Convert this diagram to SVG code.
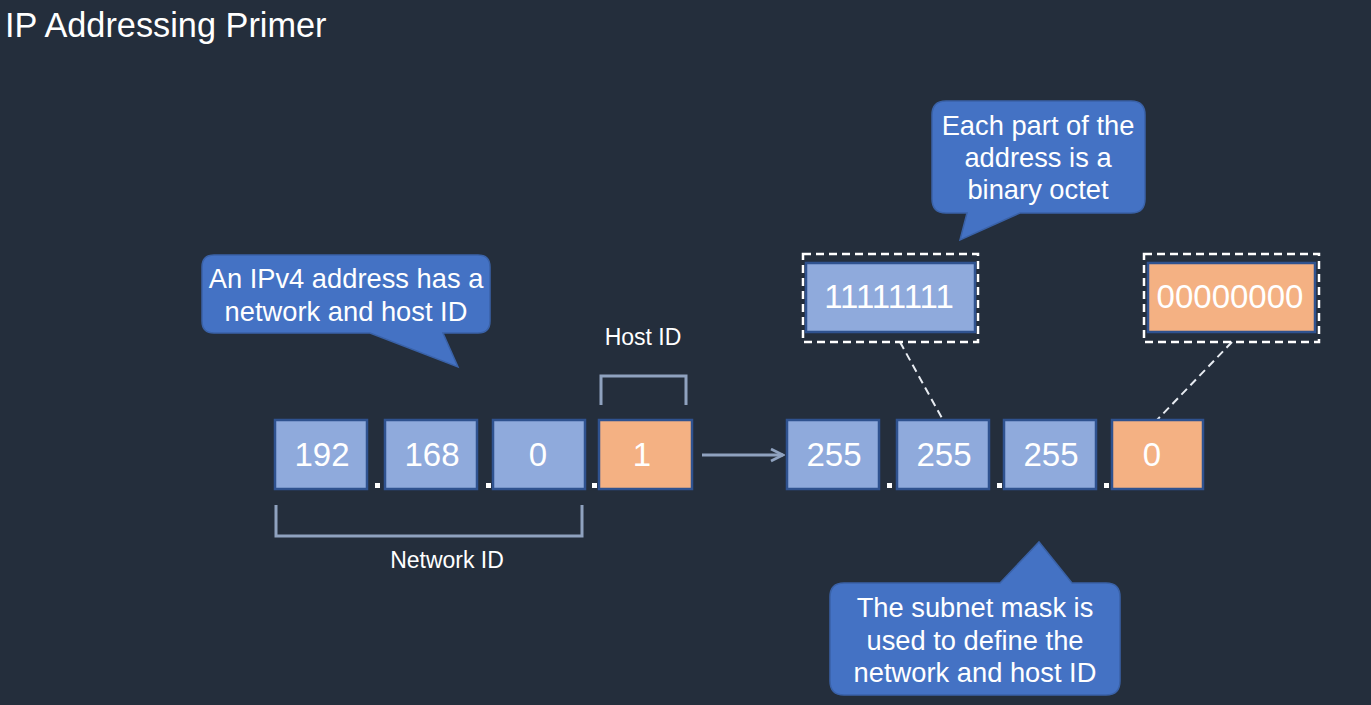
<svg xmlns="http://www.w3.org/2000/svg" width="1371" height="705" viewBox="0 0 1371 705">
<defs>
<style>
.t{font-family:"Liberation Sans",Arial,sans-serif;fill:#ffffff;text-anchor:middle}
.bx{fill:#8faadc;stroke:#2f528f;stroke-width:2.5}
.or{fill:#f4b183;stroke:#2f528f;stroke-width:2.5}
.num{font-size:33px}
.call{fill:#4472c4;stroke:#3a62a8;stroke-width:1.5}
.ct{font-size:27.3px}
.lbl{font-size:23px}
.dash{fill:none;stroke:#ffffff;stroke-width:2.5;stroke-dasharray:8 5}
.dl{fill:none;stroke:#e8ecf2;stroke-width:2;stroke-dasharray:8 5}
.br{fill:none;stroke:#8fa2bf;stroke-width:3}
.dot{fill:#ffffff}
</style>
<marker id="ah" viewBox="0 0 10 10" refX="9" refY="5" markerWidth="5" markerHeight="5" orient="auto" markerUnits="strokeWidth">
<path d="M1,1 L9,5 L1,9" fill="none" stroke="#8fa2bf" stroke-width="1.8"/>
</marker>
</defs>
<rect x="0" y="0" width="1371" height="705" fill="#242e3c"/>
<text class="t" x="5" y="37" style="text-anchor:start;font-size:34.3px">IP Addressing Primer</text>

<g id="connectors">
<line x1="702" y1="455" x2="783" y2="455" stroke="#8fa2bf" stroke-width="3" marker-end="url(#ah)"/>
<line class="dl" x1="900" y1="342" x2="943" y2="420"/>
<line class="dl" x1="1232" y1="342" x2="1157" y2="420"/>
<path class="br" d="M276,505 V536 H582 V505"/>
<path class="br" d="M601,405 V376 H686 V405"/>
</g>

<g id="ip-192"><rect class="bx" x="275" y="420" width="92" height="69"/><text class="t num" x="322" y="466">192</text></g>
<rect class="dot" x="375" y="483" width="5" height="5"/>
<g id="ip-168"><rect class="bx" x="385" y="420" width="92" height="69"/><text class="t num" x="432" y="466">168</text></g>
<rect class="dot" x="486" y="483" width="5" height="5"/>
<g id="ip-0"><rect class="bx" x="493" y="420" width="92" height="69"/><text class="t num" x="538" y="466">0</text></g>
<rect class="dot" x="592" y="483" width="5" height="5"/>
<g id="ip-1"><rect class="or" x="599" y="420" width="93" height="69"/><text class="t num" x="642" y="466">1</text></g>

<g id="mask-255a"><rect class="bx" x="787" y="420" width="92" height="69"/><text class="t num" x="834" y="466">255</text></g>
<rect class="dot" x="887" y="483" width="5" height="5"/>
<g id="mask-255b"><rect class="bx" x="897" y="420" width="92" height="69"/><text class="t num" x="944" y="466">255</text></g>
<rect class="dot" x="997" y="483" width="5" height="5"/>
<g id="mask-255c"><rect class="bx" x="1004" y="420" width="92" height="69"/><text class="t num" x="1051" y="466">255</text></g>
<rect class="dot" x="1104" y="483" width="5" height="5"/>
<g id="mask-0"><rect class="or" x="1112" y="420" width="91" height="69"/><text class="t num" x="1152" y="466">0</text></g>

<g id="bin-ones"><rect class="dash" x="803" y="254" width="175" height="88"/><rect class="bx" x="806" y="263" width="169" height="69"/><text class="t num" x="889" y="308">11111111</text></g>
<g id="bin-zeros"><rect class="dash" x="1144" y="254" width="175" height="88"/><rect class="or" x="1148" y="263" width="167" height="69"/><text class="t num" x="1230" y="308">00000000</text></g>

<g id="label-host"><text class="t lbl" x="643" y="345">Host ID</text></g>
<g id="label-network"><text class="t lbl" x="447" y="568">Network ID</text></g>

<g id="callout-ipv4">
<path class="call" d="M214,255 H478 Q490,255 490,267 V321 Q490,333 478,333 H443 L458,367 L370,333 H214 Q202,333 202,321 V267 Q202,255 214,255 Z"/>
<text class="t ct" x="346" y="288">An IPv4 address has a</text>
<text class="t ct" x="346" y="321">network and host ID</text>
</g>
<g id="callout-octet">
<path class="call" d="M946,101 H1131 Q1145,101 1145,115 V199 Q1145,213 1131,213 H1020 L960,240 L967,213 H946 Q932,213 932,199 V115 Q932,101 946,101 Z"/>
<text class="t ct" x="1038" y="135">Each part of the</text>
<text class="t ct" x="1038" y="167">address is a</text>
<text class="t ct" x="1038" y="199">binary octet</text>
</g>
<g id="callout-mask">
<path class="call" d="M844,583 H1000 L1039,542 L1072,583 H1106 Q1120,583 1120,597 V681 Q1120,695 1106,695 H844 Q830,695 830,681 V597 Q830,583 844,583 Z"/>
<text class="t ct" x="975" y="617">The subnet mask is</text>
<text class="t ct" x="975" y="650">used to define the</text>
<text class="t ct" x="975" y="682">network and host ID</text>
</g>
</svg>
